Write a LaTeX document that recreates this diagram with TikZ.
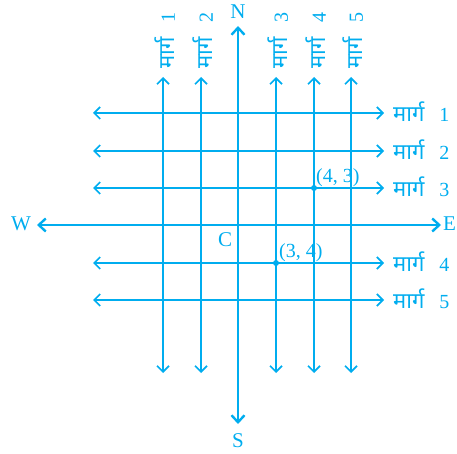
\documentclass[tikz,border=0pt]{standalone}
\usepackage{fontspec}
\setmainfont{Liberation Serif}
\newfontfamily\deva[Script=Devanagari]{Noto Sans}
\usetikzlibrary{arrows.meta}
\definecolor{cy}{RGB}{0,173,239}
\newcommand{\marg}[1]{{\deva\fontsize{22}{24}\selectfont मार्ग}\hspace{0.75em}#1}
\begin{document}
\begin{tikzpicture}[x=1pt,y=-1pt,
  lbl/.style={text=cy, inner sep=0pt, font=\fontsize{21}{24}\selectfont},
  rlbl/.style={text=cy, inner sep=0pt, font=\fontsize{20}{24}\selectfont},
  road/.style={draw=cy, line width=1.7pt, {Straight Barb[length=6pt,width=12pt,line width=1.7pt]}-{Straight Barb[length=6pt,width=12pt,line width=1.7pt]}},
  axisline/.style={draw=cy, line width=2.6pt, {Straight Barb[length=7pt,width=13pt,line width=2.4pt]}-{Straight Barb[length=7pt,width=13pt,line width=2.4pt]}},
  pt/.style={circle, fill=cy, inner sep=0pt, minimum size=6pt},
  ptlbl/.style={text=cy, inner sep=0pt, font=\fontsize{20}{22}\selectfont}]
\useasboundingbox (0,0) rectangle (457,454);
% vertical roads
\foreach \i/\x in {1/163,2/201,3/276,4/314,5/351}{
  \coordinate (vt\i) at (\x,77);
  \coordinate (vb\i) at (\x,373);
  \draw[road] (vb\i) -- (vt\i);
  \node[rlbl, rotate=90, anchor=west] (vl\i) at (\x+2,69) {\marg{\i}};
}
% horizontal roads
\foreach \i/\y in {1/113,2/151,3/188,4/263,5/300}{
  \coordinate (hl\i) at (93,\y);
  \coordinate (hr\i) at (384,\y);
  \draw[road] (hl\i) -- (hr\i);
  \node[rlbl, anchor=west] (hlab\i) at (393,\y-1) {\marg{\i}};
}
% axes
\node[lbl] (N) at (238,12) {N};
\node[lbl] (S) at (238,441) {S};
\node[lbl] (W) at (21,224) {W};
\node[lbl, anchor=west] (E) at (443,224) {E};
\coordinate (nt) at (238,26);
\coordinate (sb) at (238,424);
\coordinate (wl) at (37,225);
\coordinate (er) at (441,225);
\draw[axisline] (sb) -- (nt);
\draw[axisline] (wl) -- (er);
\node[lbl] (C) at (225,240) {C};
% points
\node[pt] (p43) at (314,188) {};
\node[pt] (p34) at (276,263) {};
\node[ptlbl, anchor=south west] (l43) at (316,187) {(4, 3)};
\node[ptlbl, anchor=south west] (l34) at (279,262) {(3, 4)};
\end{tikzpicture}
\end{document}
